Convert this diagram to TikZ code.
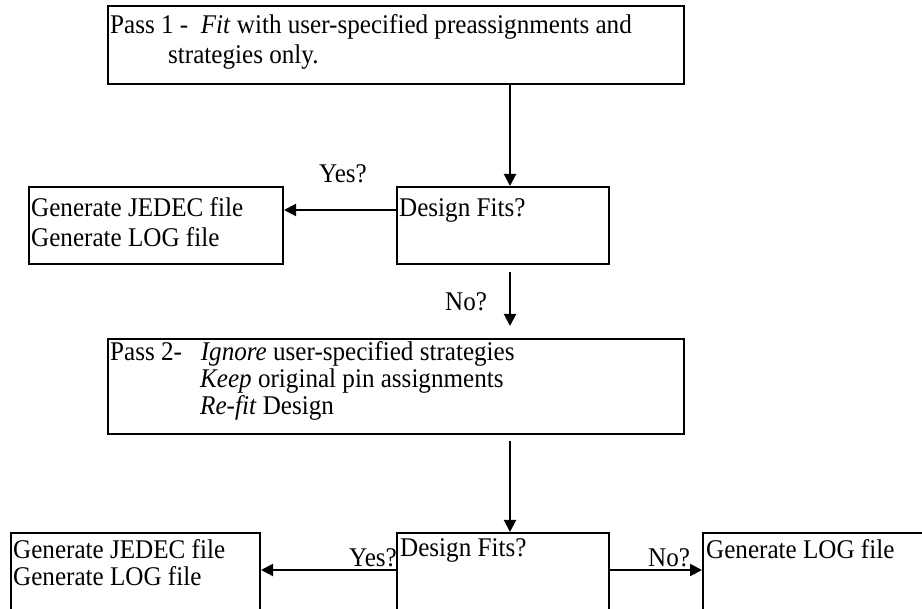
\documentclass[tikz,border=0pt]{standalone}
\usepackage{fontspec}
\setmainfont{Liberation Serif}[FakeStretch=0.93]
\usetikzlibrary{arrows.meta,calc}
\begin{document}
\begin{tikzpicture}[x=1pt,y=-1pt,
 box/.style={draw,line width=2pt,rectangle,inner sep=0pt,anchor=north west},
 lbl/.style={anchor=base west,inner sep=0pt,font=\fontsize{27}{30}\selectfont},
 arr/.style={line width=2pt,-{Triangle[length=12pt,width=12pt]}}]
\useasboundingbox (0,0) rectangle (922,609);
\clip (0,0) rectangle (922,609);
% boxes
\node[box,minimum width=576pt,minimum height=78pt] (p1) at (107,5) {};
\node[box,minimum width=212pt,minimum height=77pt] (df1) at (396,186) {};
\node[box,minimum width=254pt,minimum height=77pt] (gen1) at (28,186) {};
\node[box,minimum width=576pt,minimum height=95pt] (p2) at (107,338) {};
\node[box,minimum width=249pt,minimum height=120pt] (gen2) at (10,532) {};
\node[box,minimum width=212pt,minimum height=120pt] (df2) at (396,532) {};
\node[box,minimum width=260pt,minimum height=120pt] (log) at (702,532) {};
% texts
\node[lbl] (t1a) at (110,34) {Pass 1 -\ \ \textit{Fit} with user-specified preassignments and};
\node[lbl] (t1b) at (168,64) {strategies only.};
\node[lbl] (tdf1) at (399,217) {Design Fits?};
\node[lbl] (tg1a) at (31,217) {Generate JEDEC file};
\node[lbl] (tg1b) at (31,247) {Generate LOG file};
\node[lbl] (tp2a) at (110,361) {Pass 2-\ \ \ \textit{Ignore} user-specified strategies};
\node[lbl] (tp2b) at (200,388) {\textit{Keep} original pin assignments};
\node[lbl] (tp2c) at (200,415) {\textit{Re-fit} Design};
\node[lbl] (tg2a) at (13,559) {Generate JEDEC file};
\node[lbl] (tg2b) at (13,586) {Generate LOG file};
\node[lbl] (tdf2) at (400,557) {Design Fits?};
\node[lbl] (tlog) at (706,559) {Generate LOG file};
% labels
\node[lbl] (yes1) at (319,183) {Yes?};
\node[lbl] (no1) at (445,311) {No?};
\node[lbl] (yes2) at (349,567) {Yes?};
\node[lbl] (no2) at (648,567) {No?};
% connectors
\coordinate (a1s) at (510,84);
\draw[arr] (p1.south -| a1s) -- (df1.north -| a1s);
\coordinate (yy1) at (0,210);
\draw[arr] (df1.west |- yy1) -- (gen1.east |- yy1);
\coordinate (n1s) at (510,272);
\coordinate (n1e) at (510,326);
\draw[arr] (n1s) -- (n1e);
\coordinate (a3s) at (510,441);
\draw[arr] (a3s) -- (df2.north -| a3s);
\coordinate (yy2) at (0,570);
\draw[arr] (df2.west |- yy2) -- (gen2.east |- yy2);
\draw[arr] (df2.east |- yy2) -- (log.west |- yy2);
\end{tikzpicture}
\end{document}
